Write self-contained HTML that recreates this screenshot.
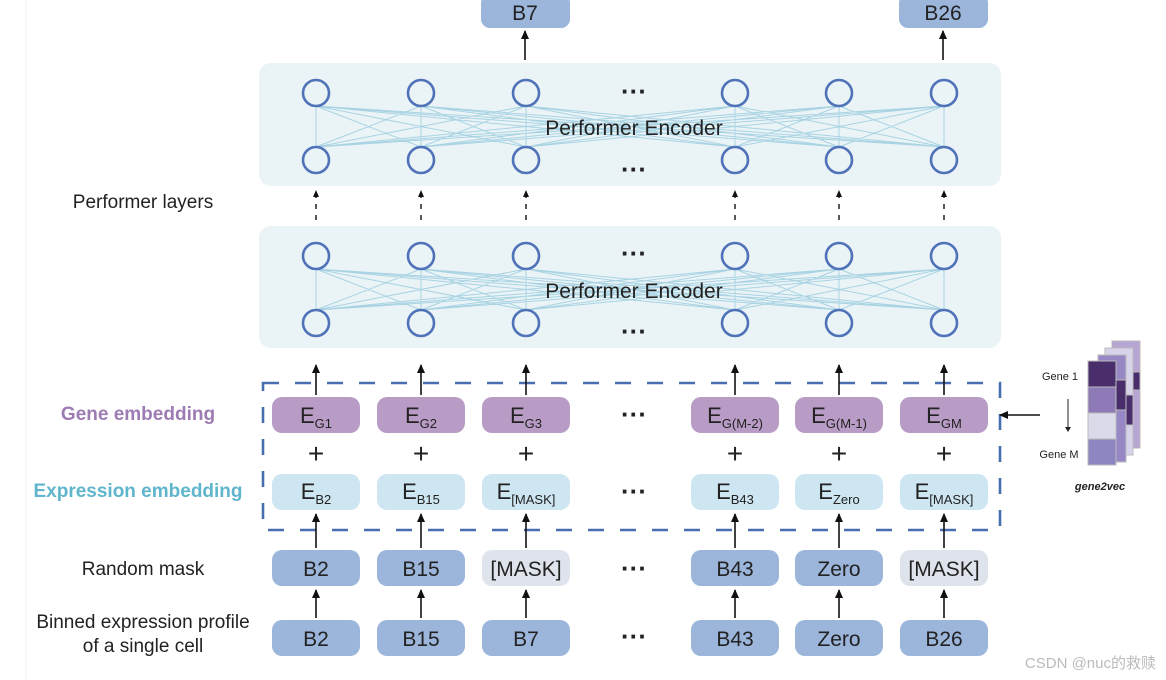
<!DOCTYPE html>
<html><head><meta charset="utf-8"><style>
html,body{margin:0;padding:0;background:#fff;}
svg{display:block;font-family:"Liberation Sans",Arial,sans-serif;}
</style></head><body>
<svg width="1166" height="680" viewBox="0 0 1166 680" xmlns="http://www.w3.org/2000/svg">
<defs>
<marker id="ah" markerWidth="9" markerHeight="8" refX="8" refY="4" orient="auto" markerUnits="userSpaceOnUse"><path d="M0,0 L9,4 L0,8 Z" fill="#111"/></marker>
</defs>
<rect x="0" y="0" width="1166" height="680" fill="#fff"/>
<line x1="26" y1="0" x2="26" y2="680" stroke="#f2f2f2"/>
<rect x="481" y="-6" width="89" height="34" rx="9" fill="#9bb5db"/>
<text x="525" y="20" font-size="21" text-anchor="middle" fill="#222">B7</text>
<rect x="899" y="-6" width="89" height="34" rx="9" fill="#9bb5db"/>
<text x="943" y="20" font-size="21" text-anchor="middle" fill="#222">B26</text>
<line x1="525" y1="60" x2="525" y2="31" stroke="#111" stroke-width="1.6" marker-end="url(#ah)"/>
<line x1="943" y1="60" x2="943" y2="31" stroke="#111" stroke-width="1.6" marker-end="url(#ah)"/>

<rect x="259" y="63" width="742" height="123" rx="12" fill="#eaf4f7"/>
<rect x="259" y="226" width="742" height="122" rx="12" fill="#eaf4f7"/>

<g stroke="#a9d3e3" stroke-width="1" fill="none">
<path d="M316,147L316,106M316,147L421,106M316,147L526,106M316,147L735,106M316,147L839,106M316,147L944,106
M421,147L316,106M421,147L421,106M421,147L526,106M421,147L735,106M421,147L839,106M421,147L944,106
M526,147L316,106M526,147L421,106M526,147L526,106M526,147L735,106M526,147L839,106M526,147L944,106
M735,147L316,106M735,147L421,106M735,147L526,106M735,147L735,106M735,147L839,106M735,147L944,106
M839,147L316,106M839,147L421,106M839,147L526,106M839,147L735,106M839,147L839,106M839,147L944,106
M944,147L316,106M944,147L421,106M944,147L526,106M944,147L735,106M944,147L839,106M944,147L944,106"/>
<path transform="translate(0,163)" d="M316,147L316,106M316,147L421,106M316,147L526,106M316,147L735,106M316,147L839,106M316,147L944,106
M421,147L316,106M421,147L421,106M421,147L526,106M421,147L735,106M421,147L839,106M421,147L944,106
M526,147L316,106M526,147L421,106M526,147L526,106M526,147L735,106M526,147L839,106M526,147L944,106
M735,147L316,106M735,147L421,106M735,147L526,106M735,147L735,106M735,147L839,106M735,147L944,106
M839,147L316,106M839,147L421,106M839,147L526,106M839,147L735,106M839,147L839,106M839,147L944,106
M944,147L316,106M944,147L421,106M944,147L526,106M944,147L735,106M944,147L839,106M944,147L944,106"/>
</g>
<g fill="#eaf4f7" stroke="#4f72b8" stroke-width="2.6">
<circle cx="316" cy="93" r="13"/><circle cx="421" cy="93" r="13"/><circle cx="526" cy="93" r="13"/><circle cx="735" cy="93" r="13"/><circle cx="839" cy="93" r="13"/><circle cx="944" cy="93" r="13"/>
<circle cx="316" cy="160" r="13"/><circle cx="421" cy="160" r="13"/><circle cx="526" cy="160" r="13"/><circle cx="735" cy="160" r="13"/><circle cx="839" cy="160" r="13"/><circle cx="944" cy="160" r="13"/>
<circle cx="316" cy="256" r="13"/><circle cx="421" cy="256" r="13"/><circle cx="526" cy="256" r="13"/><circle cx="735" cy="256" r="13"/><circle cx="839" cy="256" r="13"/><circle cx="944" cy="256" r="13"/>
<circle cx="316" cy="323" r="13"/><circle cx="421" cy="323" r="13"/><circle cx="526" cy="323" r="13"/><circle cx="735" cy="323" r="13"/><circle cx="839" cy="323" r="13"/><circle cx="944" cy="323" r="13"/>
</g>
<text x="634" y="135" font-size="21" text-anchor="middle" fill="#222">Performer Encoder</text>
<text x="634" y="298" font-size="21" text-anchor="middle" fill="#222">Performer Encoder</text>
<g font-size="26" font-weight="bold" text-anchor="middle" fill="#222">
<text x="634" y="100">···</text><text x="634" y="178">···</text>
<text x="634" y="262">···</text><text x="634" y="340">···</text>
<text x="634" y="423">···</text><text x="634" y="500">···</text>
<text x="634" y="577">···</text><text x="634" y="645">···</text>
</g>

<g stroke="#111" stroke-width="1.4" stroke-dasharray="5,6">
<line x1="316" y1="220" x2="316" y2="196"/><line x1="421" y1="220" x2="421" y2="196"/><line x1="526" y1="220" x2="526" y2="196"/><line x1="735" y1="220" x2="735" y2="196"/><line x1="839" y1="220" x2="839" y2="196"/><line x1="944" y1="220" x2="944" y2="196"/>
</g>
<g fill="#111">
<path d="M313,197L316,190L319,197Z"/><path d="M418,197L421,190L424,197Z"/><path d="M523,197L526,190L529,197Z"/><path d="M732,197L735,190L738,197Z"/><path d="M836,197L839,190L842,197Z"/><path d="M941,197L944,190L947,197Z"/>
</g>
<text x="143" y="208" font-size="19" text-anchor="middle" fill="#222">Performer layers</text>

<rect x="263" y="383" width="737" height="147" fill="none" stroke="#4a6fb0" stroke-width="2.6" stroke-dasharray="16,16"/>

<g stroke="#111" stroke-width="1.6" marker-end="url(#ah)">
<line x1="316" y1="395" x2="316" y2="365"/><line x1="421" y1="395" x2="421" y2="365"/><line x1="526" y1="395" x2="526" y2="365"/><line x1="735" y1="395" x2="735" y2="365"/><line x1="839" y1="395" x2="839" y2="365"/><line x1="944" y1="395" x2="944" y2="365"/>
<line x1="316" y1="548" x2="316" y2="514"/><line x1="421" y1="548" x2="421" y2="514"/><line x1="526" y1="548" x2="526" y2="514"/><line x1="735" y1="548" x2="735" y2="514"/><line x1="839" y1="548" x2="839" y2="514"/><line x1="944" y1="548" x2="944" y2="514"/>
<line x1="316" y1="618" x2="316" y2="590"/><line x1="421" y1="618" x2="421" y2="590"/><line x1="526" y1="618" x2="526" y2="590"/><line x1="735" y1="618" x2="735" y2="590"/><line x1="839" y1="618" x2="839" y2="590"/><line x1="944" y1="618" x2="944" y2="590"/>
</g>

<g fill="#b99cc6">
<rect x="272" y="397" width="88" height="36" rx="10"/><rect x="377" y="397" width="88" height="36" rx="10"/><rect x="482" y="397" width="88" height="36" rx="10"/><rect x="691" y="397" width="88" height="36" rx="10"/><rect x="795" y="397" width="88" height="36" rx="10"/><rect x="900" y="397" width="88" height="36" rx="10"/>
</g>
<g font-size="22" fill="#222" text-anchor="middle">
<text x="316" y="423">E<tspan font-size="13" dy="5">G1</tspan></text>
<text x="421" y="423">E<tspan font-size="13" dy="5">G2</tspan></text>
<text x="526" y="423">E<tspan font-size="13" dy="5">G3</tspan></text>
<text x="735" y="423">E<tspan font-size="13" dy="5">G(M-2)</tspan></text>
<text x="839" y="423">E<tspan font-size="13" dy="5">G(M-1)</tspan></text>
<text x="944" y="423">E<tspan font-size="13" dy="5">GM</tspan></text>
</g>
<g font-size="28" fill="#222" text-anchor="middle">
<text x="316" y="463">+</text><text x="421" y="463">+</text><text x="526" y="463">+</text><text x="735" y="463">+</text><text x="839" y="463">+</text><text x="944" y="463">+</text>
</g>
<g fill="#cde6f1">
<rect x="272" y="474" width="88" height="36" rx="10"/><rect x="377" y="474" width="88" height="36" rx="10"/><rect x="482" y="474" width="88" height="36" rx="10"/><rect x="691" y="474" width="88" height="36" rx="10"/><rect x="795" y="474" width="88" height="36" rx="10"/><rect x="900" y="474" width="88" height="36" rx="10"/>
</g>
<g font-size="22" fill="#222" text-anchor="middle">
<text x="316" y="499">E<tspan font-size="13" dy="5">B2</tspan></text>
<text x="421" y="499">E<tspan font-size="13" dy="5">B15</tspan></text>
<text x="526" y="499">E<tspan font-size="13" dy="5">[MASK]</tspan></text>
<text x="735" y="499">E<tspan font-size="13" dy="5">B43</tspan></text>
<text x="839" y="499">E<tspan font-size="13" dy="5">Zero</tspan></text>
<text x="944" y="499">E<tspan font-size="13" dy="5">[MASK]</tspan></text>
</g>
<text x="138" y="420" font-size="19" font-weight="bold" text-anchor="middle" fill="#9d7bb3">Gene embedding</text>
<text x="138" y="497" font-size="19" font-weight="bold" text-anchor="middle" fill="#5fb6cc">Expression embedding</text>

<g fill="#9bb5db">
<rect x="272" y="550" width="88" height="36" rx="10"/><rect x="377" y="550" width="88" height="36" rx="10"/><rect x="691" y="550" width="88" height="36" rx="10"/><rect x="795" y="550" width="88" height="36" rx="10"/>
<rect x="272" y="620" width="88" height="36" rx="10"/><rect x="377" y="620" width="88" height="36" rx="10"/><rect x="482" y="620" width="88" height="36" rx="10"/><rect x="691" y="620" width="88" height="36" rx="10"/><rect x="795" y="620" width="88" height="36" rx="10"/><rect x="900" y="620" width="88" height="36" rx="10"/>
</g>
<g fill="#dfe4ec"><rect x="482" y="550" width="88" height="36" rx="10"/><rect x="900" y="550" width="88" height="36" rx="10"/></g>
<g font-size="21" fill="#222" text-anchor="middle">
<text x="316" y="576">B2</text><text x="421" y="576">B15</text><text x="526" y="576">[MASK]</text><text x="735" y="576">B43</text><text x="839" y="576">Zero</text><text x="944" y="576">[MASK]</text>
<text x="316" y="646">B2</text><text x="421" y="646">B15</text><text x="526" y="646">B7</text><text x="735" y="646">B43</text><text x="839" y="646">Zero</text><text x="944" y="646">B26</text>
</g>
<text x="143" y="575" font-size="19" text-anchor="middle" fill="#222">Random mask</text>
<text x="143" y="628" font-size="19" text-anchor="middle" fill="#222">Binned expression profile</text>
<text x="143" y="652" font-size="19" text-anchor="middle" fill="#222">of a single cell</text>

<g stroke="#bbb" stroke-width="1">
<rect x="1112" y="341" width="28" height="107" fill="#b7a6d4"/>
<rect x="1112" y="372" width="28" height="18" fill="#4a2d6b"/>
<rect x="1105" y="348" width="28" height="107" fill="#d6d3ea"/>
<rect x="1105" y="395" width="28" height="30" fill="#4a2d6b"/>
<rect x="1098" y="355" width="28" height="107" fill="#9788c5"/>
<rect x="1098" y="380" width="28" height="30" fill="#4a2d6b"/>
<rect x="1088" y="361" width="28" height="26" fill="#4a2d6b"/>
<rect x="1088" y="387" width="28" height="26" fill="#8f7ab8"/>
<rect x="1088" y="413" width="28" height="26" fill="#d9dbea"/>
<rect x="1088" y="439" width="28" height="26" fill="#8d86c1"/>
</g>
<text x="1060" y="380" font-size="11" text-anchor="middle" fill="#222">Gene 1</text>
<text x="1059" y="458" font-size="11" text-anchor="middle" fill="#222">Gene M</text>
<line x1="1068" y1="399" x2="1068" y2="428" stroke="#222" stroke-width="1"/>
<path d="M1065,427L1068,432L1071,427Z" fill="#222"/>
<text x="1100" y="490" font-size="11" font-weight="bold" font-style="italic" text-anchor="middle" fill="#222">gene2vec</text>
<line x1="1040" y1="415" x2="1000" y2="415" stroke="#111" stroke-width="1.6" marker-end="url(#ah)"/>

<text x="1156" y="668" font-size="15" text-anchor="end" fill="#bbb">CSDN @nuc的救赎</text>
</svg>
</body></html>
